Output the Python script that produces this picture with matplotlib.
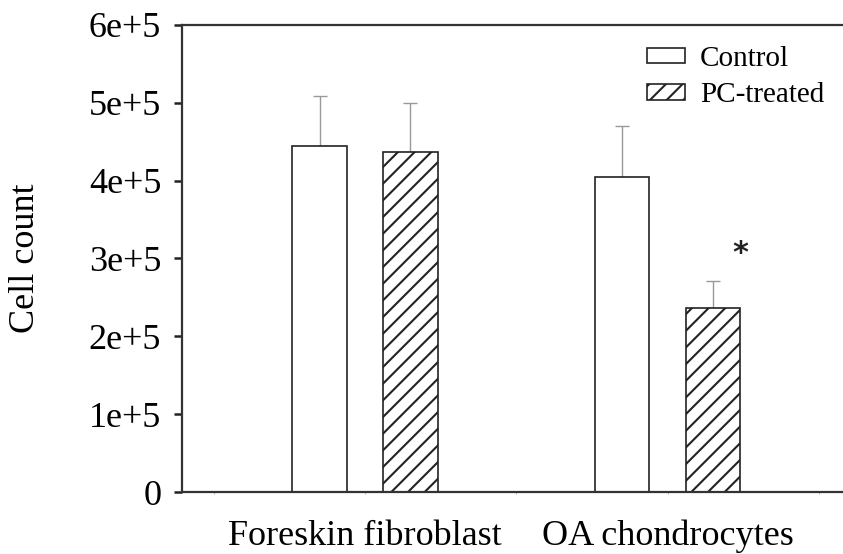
import matplotlib
matplotlib.use("Agg")
import matplotlib.pyplot as plt
import numpy as np

plt.rcParams['font.family'] = ['Liberation Serif', 'DejaVu Serif']
plt.rcParams['hatch.linewidth'] = 1.5

categories = ["Foreskin fibroblast", "OA chondrocytes"]
control = [4.44e5, 4.05e5]
control_err = [0.65e5, 0.65e5]
treated = [4.37e5, 2.37e5]
treated_err = [0.63e5, 0.34e5]
yticks = [0, 1e5, 2e5, 3e5, 4e5, 5e5, 6e5]
ytick_labels = ["0", "1e+5", "2e+5", "3e+5", "4e+5", "5e+5", "6e+5"]

fig = plt.figure(figsize=(8.43, 5.54), dpi=100)
ax = fig.add_axes([0.2159, 0.1119, 0.7841, 0.8430])

x = np.array([1.0, 2.0])
w = 0.18
off = 0.15
ax.bar(x - off, control, w, color='white', edgecolor='#222222', linewidth=1.2,
       label='Control', zorder=2)
ax.bar(x + off, treated, w, color='white', edgecolor='#222222', linewidth=1.2,
       hatch='//', label='PC-treated', zorder=2)
ax.errorbar(x - off, control, yerr=[np.zeros(2), control_err], fmt='none',
            ecolor='#999999', elinewidth=1.0, capsize=4.7, capthick=1.0, zorder=1)
ax.errorbar(x + off, treated, yerr=[np.zeros(2), treated_err], fmt='none',
            ecolor='#999999', elinewidth=1.0, capsize=4.7, capthick=1.0, zorder=1)

ax.text(x[1] + off + w / 2, 3.06e5, '*', ha='center', va='center',
        fontsize=22, fontweight='bold', family='DejaVu Sans', color='#222222')

ax.set_xlim(0.395, 2.58)
ax.set_ylim(0, 6e5)
ax.set_yticks(yticks)
ax.set_yticklabels(ytick_labels, fontsize=26)
ax.set_xticks([0.5, 1.0, 1.5, 2.0, 2.5])
ax.set_xticklabels(["", categories[0], "", categories[1], ""], fontsize=26)
ax.tick_params(axis='x', length=1.5, color='#bbbbbb', pad=18.5)
ax.tick_params(axis='y', length=6, width=1.8, color='#222222', pad=9)

for s in ['left', 'top', 'bottom']:
    ax.spines[s].set_linewidth(1.6)
    ax.spines[s].set_color('#333333')
ax.spines['right'].set_visible(False)

ax.set_ylabel('Cell count', fontsize=26, labelpad=34)

leg = ax.legend(loc='upper left', bbox_to_anchor=(0.673, 0.999), frameon=False,
                fontsize=21, handlelength=1.3, handleheight=0.45,
                handletextpad=0.5, labelspacing=0.35, borderpad=0.2)

fig.savefig('out.png', dpi=100)
